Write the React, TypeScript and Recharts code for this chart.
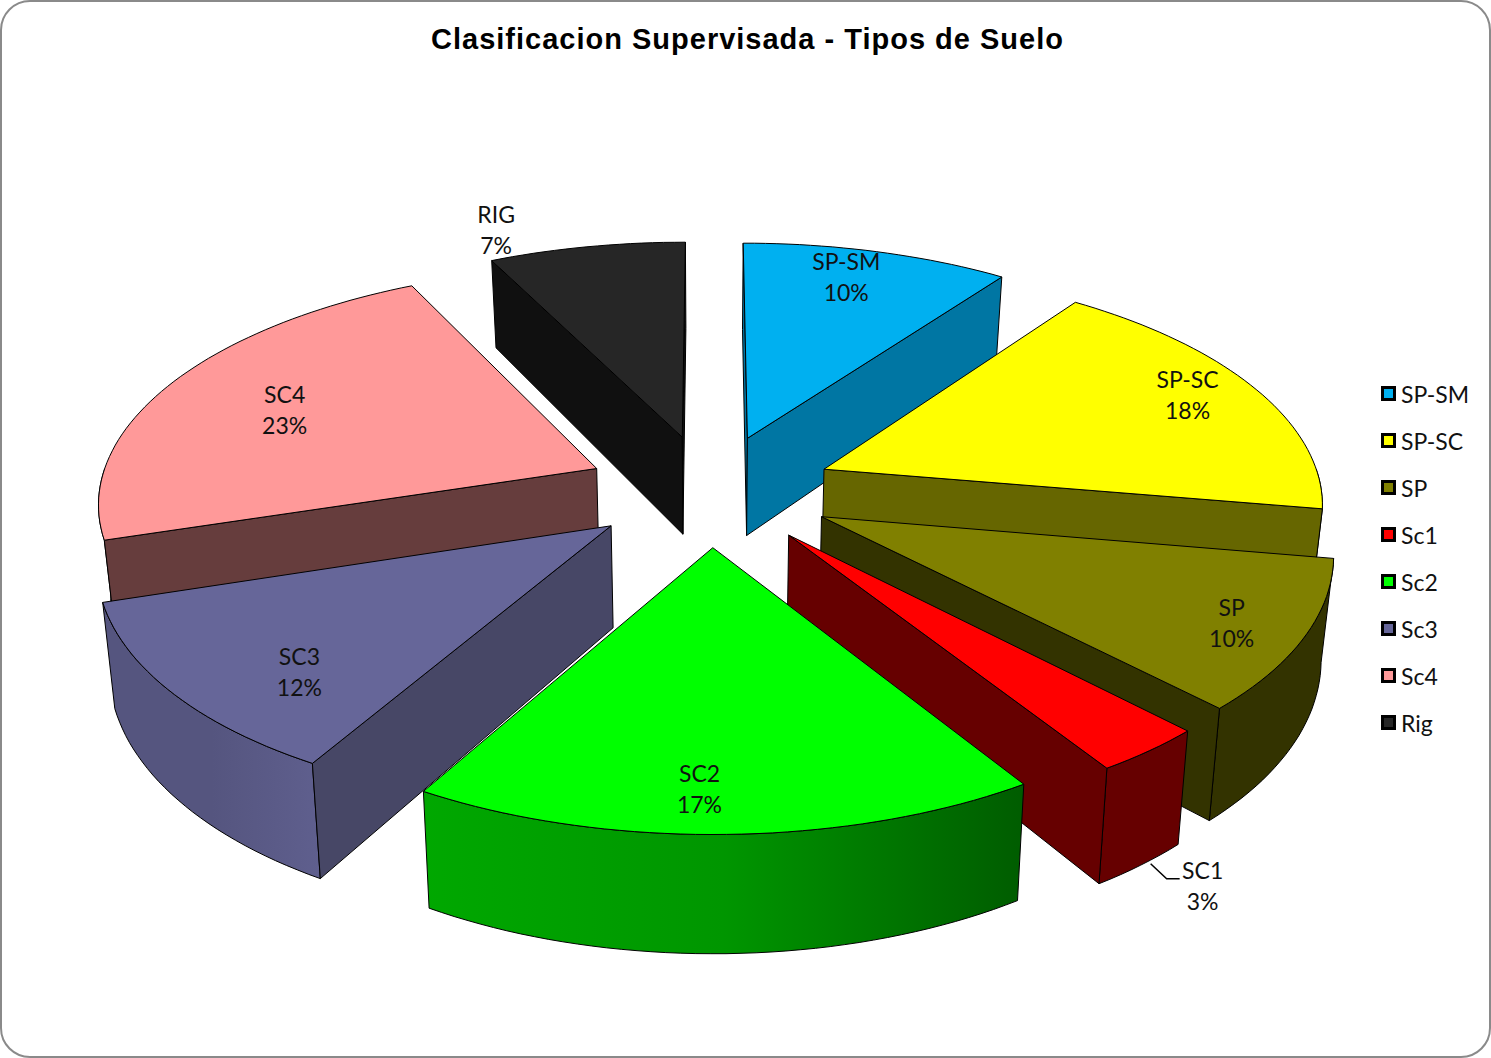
import React from 'react';
import { PieChart, Pie, Legend } from 'recharts';

const legendNames = ['SP-SM', 'SP-SC', 'SP', 'Sc1', 'Sc2', 'Sc3', 'Sc4', 'Rig'];
const labelNames = ['SP-SM', 'SP-SC', 'SP', 'SC1', 'SC2', 'SC3', 'SC4', 'RIG'];
const shares = [10, 17.72, 10.13, 3.15, 17.3, 11.8, 22.55, 7.35];

const topColors = ['#00b0f0', '#ffff00', '#808000', '#ff0000', '#00ff00', '#666699', '#ff9999', '#262626'];
const faceColors = ['#0076a3', '#666600', '#333300', '#660000', '#007a00', '#474766', '#663d3d', '#101010'];
// outer wall gradient, left / middle / right
const wallColors = [
  ['#0076a3', '#0076a3', '#0076a3'],
  ['#666600', '#666600', '#666600'],
  ['#333300', '#333300', '#333300'],
  ['#660000', '#660000', '#660000'],
  ['#00a800', '#009600', '#005c00'],
  ['#55557f', '#55557f', '#5f5f8e'],
  ['#ff9999', '#ff9999', '#ff9999'],
  ['#101010', '#101010', '#101010'],
];

// where each label sits, along the slice middle (reach from the pie centre, turn in degrees)
const labelReach = [1.08, 1.1, 1.11, 1.61, 1.1, 1.03, 0.964, 1.4];
const labelTurn = [-1.3, -0.9, 0.5, 7.85, 2.2, -4.5, -1, -7.8];

// painted back to front, so Sc4 goes first and the pie starts there
const drawOrder = [6, 7, 0, 1, 2, 3, 4, 5];
const firstAngle = shares.slice(0, 6).reduce((a, b) => a + b, 0) * 3.6;

const pieRows = drawOrder.map((i) => ({ name: labelNames[i], value: shares[i], slice: i }));

const WIDTH = 1491;
const HEIGHT = 1058;
const CX = 710;
const CY = 490;
const RADIUS = 498;
const SQUASH = 0.468;
const TILT = 0.13;
const DEPTH = 100;
const SHRINK = 0.02;
const EXPLODE_X = 0.25;
const EXPLODE_Y = 0.24;

const rad = (d: number) => (d * Math.PI) / 180;

const project = (cx: number, cy: number, R: number, u: number, v: number, z: number) => {
  const den = 1 - TILT * v;
  return [cx + ((R * u) / den) * (1 - SHRINK * z), cy + (R * SQUASH * v) / den + (DEPTH * z) / den];
};

const toPath = (pts: number[][]) =>
  'M' + pts.map((p) => `${p[0].toFixed(1)},${p[1].toFixed(1)}`).join('L') + 'Z';

// theta runs clockwise from the top of the pie
const SliceShape = (props: any) => {
  const { cx, cy, outerRadius: R, startAngle, endAngle } = props;
  const slice = props.slice ?? props.payload?.slice;
  const t0 = 90 - startAngle;
  const t1 = 90 - endAngle;
  const mid = (t0 + t1) / 2;
  const ou = EXPLODE_X * Math.sin(rad(mid));
  const ov = -EXPLODE_Y * Math.cos(rad(mid));
  const at = (r: number, t: number, z: number) =>
    project(cx, cy, R, ou + r * Math.sin(rad(t)), ov - r * Math.cos(rad(t)), z);

  const arc = (a: number, b: number, z: number) => {
    const n = Math.max(2, Math.ceil((b - a) / 1.5));
    return Array.from({ length: n + 1 }, (_, i) => at(1, a + ((b - a) * i) / n, z));
  };

  const top = [at(0, t0, 0), ...arc(t0, t1, 0)];

  const radialFace = (t: number) => [at(0, t, 0), at(1, t, 0), at(1, t, 1), at(0, t, 1)];
  const signedArea = (pts: number[][]) => {
    let area = 0;
    pts.forEach((p, i) => {
      const q = pts[(i + 1) % pts.length];
      area += p[0] * q[1] - q[0] * p[1];
    });
    return area;
  };
  const faces = [radialFace(t0), radialFace(t1)].filter((f, i) =>
    i === 0 ? signedArea(f) < 0 : signedArea(f) > 0,
  );

  const walls: number[][][] = [];
  [90, 450].forEach((lo) => {
    const a = Math.max(t0, lo);
    const b = Math.min(t1, lo + 180);
    if (b > a) walls.push([...arc(a, b, 0), ...arc(a, b, 1).reverse()]);
  });

  const gradId = `wall-${slice}`;
  const xs = walls.flat().map((p) => p[0]);
  const colors = wallColors[slice];

  return (
    <g>
      {walls.length > 0 && (
        <defs>
          <linearGradient id={gradId} gradientUnits="userSpaceOnUse" x1={Math.min(...xs)} x2={Math.max(...xs)} y1={0} y2={0}>
            <stop offset="0%" stopColor={colors[0]} />
            <stop offset="50%" stopColor={colors[1]} />
            <stop offset="100%" stopColor={colors[2]} />
          </linearGradient>
        </defs>
      )}
      {walls.map((w, i) => (
        <path key={`w${i}`} d={toPath(w)} fill={`url(#${gradId})`} stroke="#000" strokeWidth={1} strokeLinejoin="round" />
      ))}
      {faces.map((f, i) => (
        <path key={`f${i}`} d={toPath(f)} fill={faceColors[slice]} stroke="#000" strokeWidth={1} strokeLinejoin="round" />
      ))}
      <path d={toPath(top)} fill={topColors[slice]} stroke="#000" strokeWidth={1} strokeLinejoin="round" />
    </g>
  );
};

const SliceLabel = (props: any) => {
  const { cx, cy, outerRadius: R, midAngle } = props;
  const slice = props.slice ?? props.payload?.slice;
  const t = 90 - midAngle + labelTurn[slice];
  const reach = labelReach[slice];
  const [x, y] = project(cx, cy, R, reach * Math.sin(rad(t)), -reach * Math.cos(rad(t)), 0);
  return (
    <g fontFamily="Lato, sans-serif" fontSize={23} fill="#111" textAnchor="middle">
      {labelNames[slice] === 'SC1' && (
        <polyline
          points={`${x - 52},${y - 22} ${x - 36},${y - 7} ${x - 23},${y - 7}`}
          fill="none"
          stroke="#000"
          strokeWidth={1.5}
        />
      )}
      <text x={x} y={y - 7}>{labelNames[slice]}</text>
      <text x={x} y={y + 24}>{`${Math.round(shares[slice])}%`}</text>
    </g>
  );
};

const LegendList = () => (
  <div style={{ fontFamily: 'Lato, sans-serif', fontSize: 23, color: '#111' }}>
    {legendNames.map((name, i) => (
      <div key={name} style={{ display: 'flex', alignItems: 'center', height: 47 }}>
        <span
          style={{
            width: 15,
            height: 15,
            boxSizing: 'border-box',
            border: '3px solid #000',
            background: topColors[i],
            marginRight: 5,
          }}
        />
        {name}
      </div>
    ))}
  </div>
);

export default function App() {
  return (
    <div
      style={{
        position: 'absolute',
        left: 0,
        top: 0,
        width: WIDTH,
        height: HEIGHT,
        boxSizing: 'border-box',
        background: '#fff',
        border: '2px solid #8a8a8a',
        borderRadius: 30,
      }}
    >
      <div
        style={{
          position: 'absolute',
          left: -2,
          top: 21,
          width: 1495,
          textAlign: 'center',
          fontFamily: '"Liberation Sans", Arial, sans-serif',
          fontWeight: 700,
          fontSize: 29,
          letterSpacing: 1,
          color: '#000',
        }}
      >
        Clasificacion Supervisada - Tipos de Suelo
      </div>
      <div style={{ position: 'absolute', left: -2, top: -2 }}>
        <PieChart width={WIDTH} height={HEIGHT} margin={{ top: 0, right: 0, bottom: 0, left: 0 }}>
          <Legend
            content={<LegendList />}
            wrapperStyle={{ left: 1381, top: 370, right: 'auto', bottom: 'auto', width: 110 }}
          />
          <Pie
            data={pieRows}
            dataKey="value"
            nameKey="name"
            cx={CX}
            cy={CY}
            innerRadius={0}
            outerRadius={RADIUS}
            startAngle={90 - firstAngle}
            endAngle={90 - firstAngle - 360}
            shape={SliceShape}
            label={SliceLabel}
            labelLine={false}
            isAnimationActive={false}
          />
        </PieChart>
      </div>
    </div>
  );
}
